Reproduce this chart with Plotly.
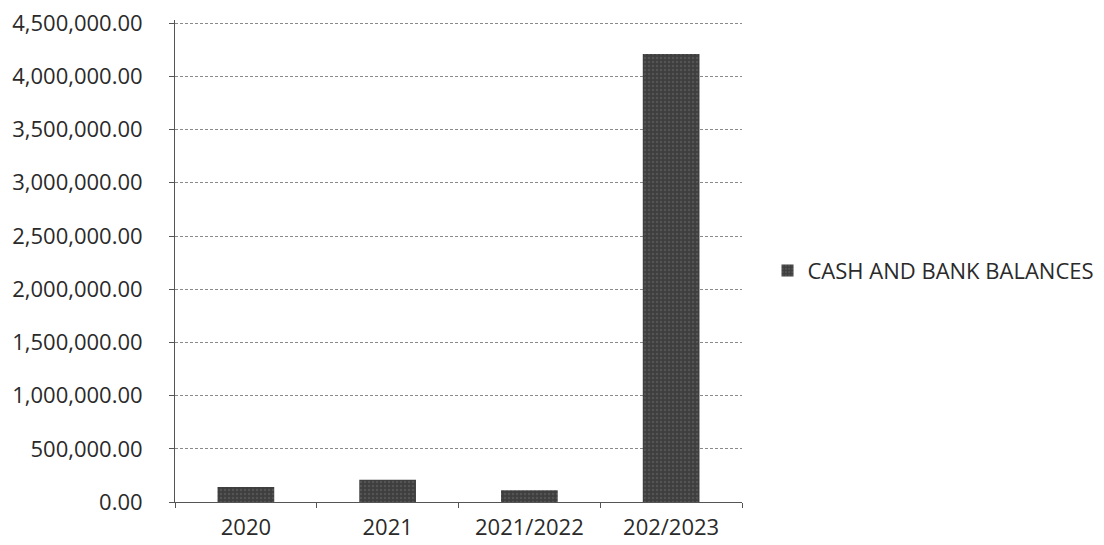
import plotly.graph_objects as go

categories = ["2020", "2021", "2021/2022", "202/2023"]
values = [140000, 210000, 110000, 4210000]
series_name = "CASH AND BANK BALANCES"
y_ticks = [0, 500000, 1000000, 1500000, 2000000, 2500000, 3000000, 3500000, 4000000, 4500000]

fig = go.Figure()
fig.add_trace(go.Bar(
    x=categories, y=values, name=series_name,
    marker=dict(color="#474747", line=dict(width=0),
                pattern=dict(shape=".", fgcolor="#6a6a6a", bgcolor="#3e3e3e",
                             size=4, solidity=0.3)),
    showlegend=True,
))

font_family = "Open Sans, Liberation Sans, sans-serif"
fig.update_layout(
    width=1104, height=545,
    margin=dict(l=167, r=370, t=12, b=51, autoexpand=False),
    paper_bgcolor="white", plot_bgcolor="white",
    bargap=0.6,
    font=dict(family=font_family, size=22, color="#2a2a2a"),
    showlegend=True,
    legend=dict(x=1.045, y=0.48, xanchor="left", yanchor="middle",
                font=dict(size=22, color="#2a2a2a"), itemwidth=30,
                bgcolor="rgba(0,0,0,0)"),
)
fig.update_yaxes(
    range=[0, 4530000], tickvals=y_ticks, tickformat=",.2f",
    showgrid=True, gridcolor="#8a8a8a", griddash="3px,2px", gridwidth=1,
    showline=True, linecolor="#555555", linewidth=1,
    ticks="outside", ticklen=5, tickcolor="#555555",
    ticklabelstandoff=22, zeroline=False, ticklabeloverflow="allow",
)
fig.update_xaxes(
    showline=True, linecolor="#555555", linewidth=1,
    ticks="outside", ticklen=5, tickcolor="#555555",
    tickson="boundaries", showgrid=False,
    mirror=False, ticklabelstandoff=6,
)
fig.write_html("out.html")
